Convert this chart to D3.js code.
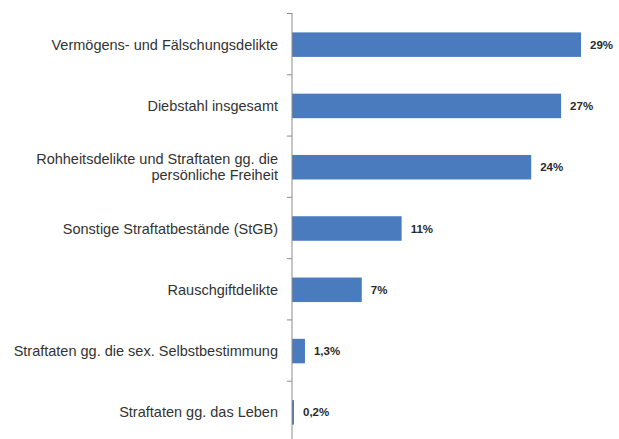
<!DOCTYPE html>
<html><head><meta charset="utf-8">
<script src="https://cdn.jsdelivr.net/npm/d3@7"></script>
<style>body{margin:0;background:#fff}svg{display:block}</style>
</head><body><svg id="c" width="619" height="439"></svg>
<script>
const categories = [
  ["Vermögens- und Fälschungsdelikte"],
  ["Diebstahl insgesamt"],
  ["Rohheitsdelikte und Straftaten gg. die", "persönliche Freiheit"],
  ["Sonstige Straftatbestände (StGB)"],
  ["Rauschgiftdelikte"],
  ["Straftaten gg. die sex. Selbstbestimmung"],
  ["Straftaten gg. das Leben"]
];
const values = [29, 27, 24, 11, 7, 1.3, 0.2];
const valueLabels = ["29%", "27%", "24%", "11%", "7%", "1,3%", "0,2%"];

const svg = d3.select("#c");
const x = d3.scaleLinear().domain([0, 30]).range([292, 591]);
const y = d3.scaleBand().domain(d3.range(categories.length)).range([13, 442])
  .paddingInner(0.6).paddingOuter(0.3);
const yb = d3.scaleBand().domain(d3.range(categories.length)).range([13, 442]);

// bars
svg.selectAll("rect.bar").data(values).join("rect")
  .attr("class", "bar")
  .attr("x", x(0))
  .attr("y", (d, i) => y(i) + 1)
  .attr("width", d => x(d) - x(0))
  .attr("height", y.bandwidth())
  .attr("fill", "#4a7bbf");

// axis
const axis = svg.append("g");
axis.append("line").attr("x1", x(0)).attr("x2", x(0)).attr("y1", 13).attr("y2", 439)
  .attr("stroke", "#8c8c8c").attr("stroke-width", 1);
const bounds = d3.range(categories.length).map(i => yb(i));
axis.selectAll("line.tick").data(bounds).join("line")
  .attr("class", "tick")
  .attr("x1", x(0) - 5).attr("x2", x(0))
  .attr("y1", d => d + 0.5).attr("y2", d => d + 0.5)
  .attr("stroke", "#8c8c8c");

// category labels
const lab = svg.selectAll("text.cat").data(categories).join("text")
  .attr("class", "cat")
  .attr("text-anchor", "end")
  .attr("font-family", "Liberation Sans, Arial, sans-serif")
  .attr("font-size", 14.5)
  .attr("fill", "#333");
lab.each(function(lines, i) {
  const cy = y(i) + 1 + y.bandwidth() / 2;
  const lh = 16;
  const t = d3.select(this);
  lines.forEach((ln, j) => {
    t.append("tspan")
      .attr("x", 278)
      .attr("y", cy + (j - (lines.length - 1) / 2) * lh)
      .attr("dy", "0.35em")
      .text(ln);
  });
});

// value labels
svg.selectAll("text.val").data(values).join("text")
  .attr("class", "val")
  .attr("x", d => x(d) + 9)
  .attr("y", (d, i) => y(i) + 1 + y.bandwidth() / 2)
  .attr("dy", "0.35em")
  .attr("font-family", "Liberation Sans, Arial, sans-serif")
  .attr("font-size", 11.5)
  .attr("font-weight", "bold")
  .attr("fill", "#2a2a2a")
  .text((d, i) => valueLabels[i]);
</script>
</body></html>
